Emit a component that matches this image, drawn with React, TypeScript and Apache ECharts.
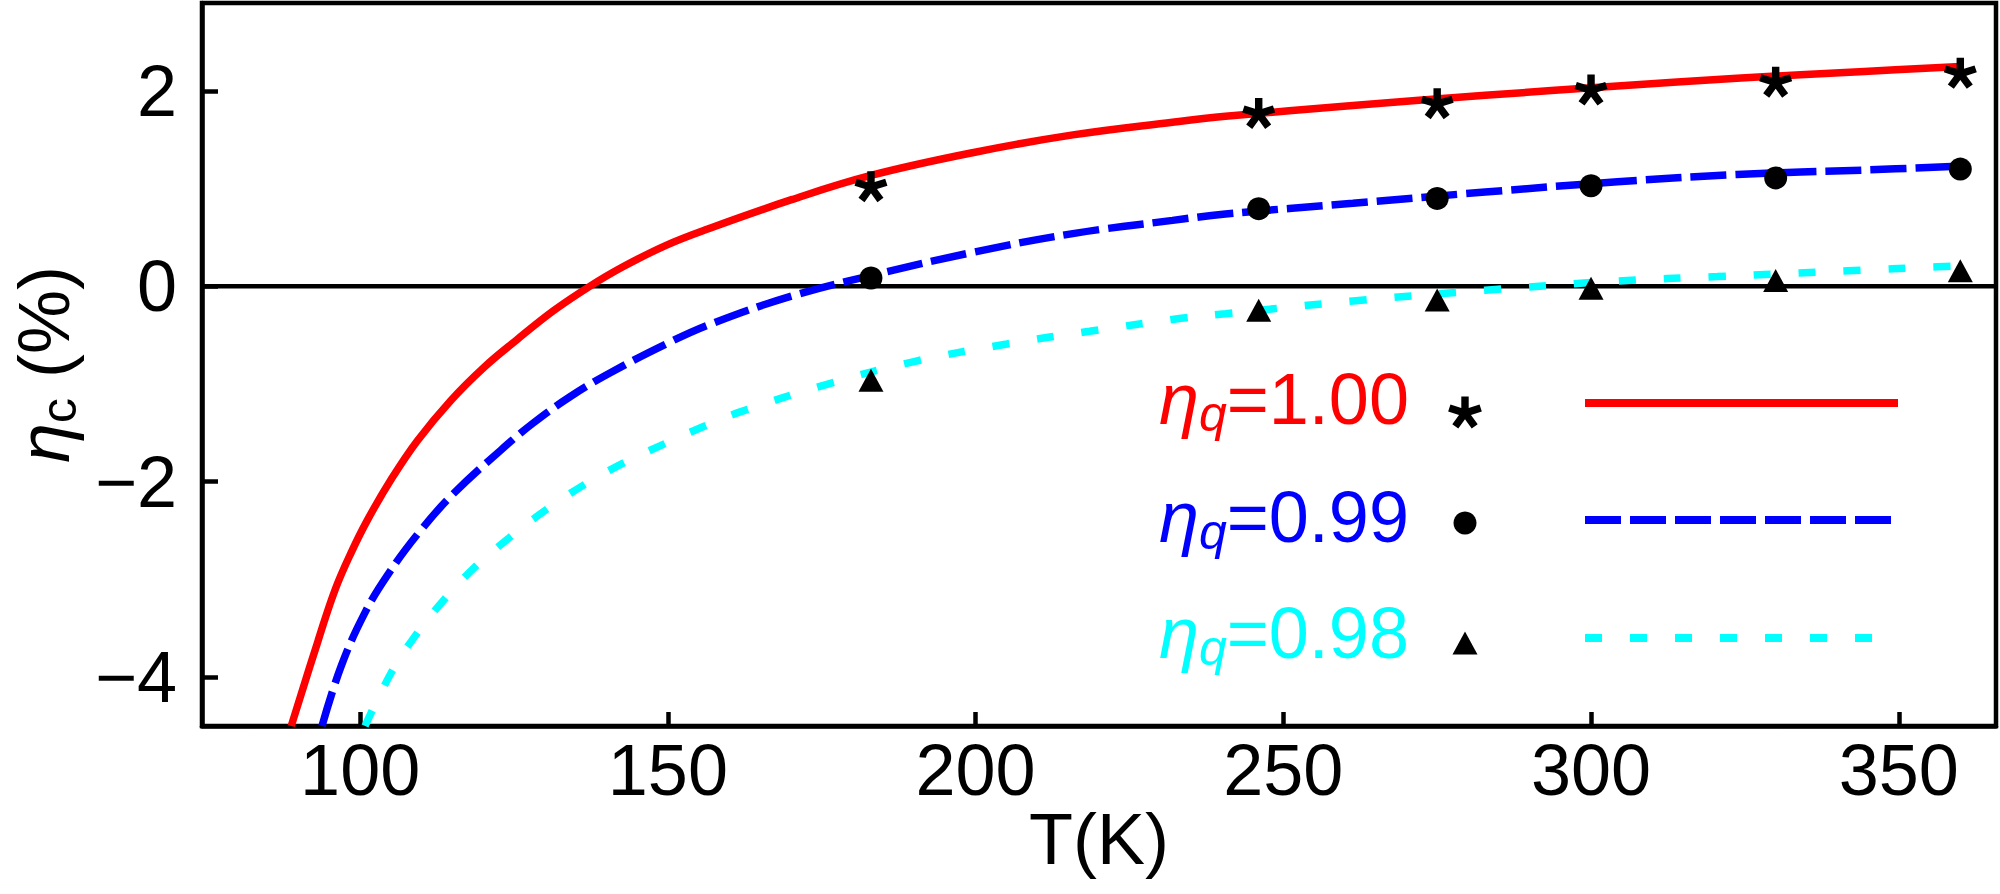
import React, { useEffect, useRef } from "react";
import * as echarts from "echarts";

// ---- data ----
const redT = [88.8, 93.2, 95.9, 98.5, 101.2, 105.0, 109.3, 114.7, 120.1, 125.4, 131.4, 137.3, 142.7, 149.7, 156.6, 170.1, 183.0, 199.7, 215.8, 232.0, 240.6, 261.3, 282.8, 304.3, 323.7, 344.4, 360];
const redV = [-4.5, -3.62, -3.11, -2.73, -2.39, -1.98, -1.58, -1.17, -0.83, -0.55, -0.25, 0, 0.2, 0.42, 0.59, 0.887, 1.135, 1.37, 1.55, 1.68, 1.74, 1.85, 1.955, 2.05, 2.13, 2.2, 2.25];

const blueT = [93.8, 96.9, 100.7, 104.5, 109.8, 115.2, 122.8, 128.1, 134.1, 140.5, 149.7, 157.2, 170.1, 183.0, 199.7, 215.8, 232.0, 240.6, 261.3, 282.8, 304.3, 323.7, 344.4, 360];
const blueV = [-4.5, -3.89, -3.35, -2.95, -2.5, -2.12, -1.68, -1.4, -1.13, -0.89, -0.59, -0.38, -0.1, 0.11, 0.35, 0.54, 0.675, 0.74, 0.85, 0.965, 1.07, 1.145, 1.19, 1.23];

const cyanT = [100.8, 105.0, 108.8, 113.6, 118.7, 124.1, 129.7, 135.9, 142.1, 148.8, 155.6, 162.0, 176.0, 190.0, 205.1, 218.5, 233.1, 240.6, 261.3, 282.8, 304.3, 320.5, 341.7, 356.2, 360];
const cyanV = [-4.5, -3.96, -3.59, -3.21, -2.87, -2.58, -2.31, -2.05, -1.83, -1.63, -1.44, -1.28, -1.0, -0.77, -0.59, -0.46, -0.33, -0.28, -0.15, -0.04, 0.055, 0.1, 0.16, 0.2, 0.21];

const markerT = [183, 246, 275, 300, 330, 360];
const starV = [1.02, 1.77, 1.87, 2.01, 2.09, 2.18];
const dotV = [0.085, 0.795, 0.9, 1.03, 1.11, 1.2];
const triV = [-0.96, -0.245, -0.14, -0.02, 0.06, 0.16];

const xTicks = [100, 150, 200, 250, 300, 350];
const yTicks = [-4, -2, 0, 2];

const legendLabels = ["=1.00", "=0.99", "=0.98"];

const FONT = "'Liberation Sans', Arial, Helvetica, sans-serif";
const RED = "#ff0000";
const BLUE = "#0000ff";
const CYAN = "#00ffff";

const X_MIN = 74.3;
const X_MAX = 365.8;
const Y_MIN = -4.5;
const Y_MAX = 2.9;

function asteriskPoints(cx: number, cy: number, L: number, w: number): number[][] {
  const pts: number[][] = [];
  const rin = w / Math.sin(Math.PI / 5);
  for (let k = 0; k < 5; k++) {
    const a = (k * 2 * Math.PI) / 5;
    const dx = Math.sin(a), dy = -Math.cos(a);
    const px = Math.cos(a), py = Math.sin(a);
    pts.push([cx + L * dx - w * px, cy + L * dy - w * py]);
    pts.push([cx + L * dx + w * px, cy + L * dy + w * py]);
    const b = a + Math.PI / 5;
    pts.push([cx + rin * Math.sin(b), cy - rin * Math.cos(b)]);
  }
  return pts;
}

const starPath =
  "path://M" +
  asteriskPoints(0, 0, 10, 2.3)
    .map((p) => p[0].toFixed(3) + " " + p[1].toFixed(3))
    .join(" L ") +
  " Z";

function pairs(t: number[], v: number[]) {
  return t.map((x, i) => [x, v[i]]);
}

function legendRich(color: string) {
  return {
    e: { fontSize: 72, fontStyle: "italic", lineHeight: 80, fontFamily: FONT, fill: color, color },
    q: { fontSize: 50, fontStyle: "italic", lineHeight: 36, verticalAlign: "bottom", fontFamily: FONT, fill: color, color },
    n: { fontSize: 72, lineHeight: 80, fontFamily: FONT, fill: color, color },
  };
}

export default function App() {
  const ref = useRef<HTMLDivElement>(null);

  useEffect(() => {
    if (!ref.current) return;
    const chart = echarts.init(ref.current, undefined, { renderer: "svg" });

    const legendColors = [RED, BLUE, CYAN];
    const legendTops = [359, 477, 593];
    const legendLineY = [403, 520, 638];
    const legendLineEnd = [1898, 1892, 1872];
    const legendDash: any[] = [null, [36, 9], [17, 28]];

    const graphic: any[] = [];
    legendLabels.forEach((lab, i) => {
      graphic.push({
        type: "text",
        x: 1159,
        y: legendTops[i],
        style: {
          text: "{e|η}{q|q}{n|" + lab + "}",
          rich: legendRich(legendColors[i]),
          fill: legendColors[i],
          align: "left",
          verticalAlign: "top",
          textAlign: "left",
          textVerticalAlign: "top",
        },
      });
      graphic.push({
        type: "line",
        shape: { x1: 1585, y1: legendLineY[i], x2: legendLineEnd[i], y2: legendLineY[i] },
        style: {
          stroke: legendColors[i],
          lineWidth: 8,
          lineDash: legendDash[i] || undefined,
          lineCap: "butt",
        },
      });
    });
    graphic.push({
      type: "polygon",
      shape: { points: asteriskPoints(1465, 413, 16.5, 3.7) },
      style: { fill: "#000" },
    });
    graphic.push({
      type: "circle",
      shape: { cx: 1465, cy: 523, r: 11.5 },
      style: { fill: "#000" },
    });
    graphic.push({
      type: "polygon",
      shape: { points: [[1465, 631.5], [1452.5, 654.5], [1477.5, 654.5]] },
      style: { fill: "#000" },
    });

    const blackLine = { color: "#000", width: 4.5 };

    const option: any = {
      animation: false,
      backgroundColor: "#ffffff",
      textStyle: { fontFamily: FONT },
      grid: {
        left: 190,
        right: 4,
        top: 3,
        bottom: 168,
        show: true,
        borderColor: "#000",
        borderWidth: 4.5,
        backgroundColor: "transparent",
      },
      xAxis: {
        type: "value",
        min: X_MIN,
        max: X_MAX,
        name: "T(K)",
        nameLocation: "middle",
        nameGap: 77,
        nameMoveOverlap: false,
        nameTextStyle: { fontSize: 72, color: "#000", fontFamily: FONT },
        axisLine: { show: true, onZero: false, lineStyle: blackLine },
        axisTick: {
          show: true,
          inside: true,
          length: 14,
          customValues: xTicks,
          lineStyle: blackLine,
        },
        axisLabel: {
          customValues: xTicks,
          fontSize: 72,
          color: "#000",
          margin: 8,
          fontFamily: FONT,
        },
        splitLine: { show: false },
      },
      yAxis: {
        type: "value",
        min: Y_MIN,
        max: Y_MAX,
        name: "{e|η}{c|c}{n| (%)}",
        nameLocation: "middle",
        nameRotate: 90,
        nameGap: 104,
        nameTextStyle: {
          color: "#000",
          fontFamily: FONT,
          rich: {
            e: { fontSize: 72, fontStyle: "italic", lineHeight: 80, fontFamily: FONT, color: "#000" },
            c: { fontSize: 50, lineHeight: 36, verticalAlign: "bottom", fontFamily: FONT, color: "#000" },
            n: { fontSize: 72, lineHeight: 80, fontFamily: FONT, color: "#000" },
          },
        },
        axisLine: { show: true, onZero: false, lineStyle: blackLine },
        axisTick: {
          show: true,
          inside: true,
          length: 16,
          customValues: yTicks,
          lineStyle: blackLine,
        },
        axisLabel: {
          customValues: yTicks,
          fontSize: 72,
          color: "#000",
          margin: 25,
          fontFamily: FONT,
          formatter: (v: number) => (v < 0 ? "\u2212" + Math.abs(v) : String(v)),
        },
        splitLine: { show: false },
      },
      series: [
        {
          // horizontal reference line at zero
          type: "line",
          name: "zero",
          data: [
            [X_MIN, 0],
            [X_MAX, 0],
          ],
          symbol: "none",
          showSymbol: false,
          silent: true,
          lineStyle: { color: "#000", width: 4.5 },
          z: 2,
        },
        {
          type: "line",
          name: "ηq=1.00",
          data: pairs(redT, redV),
          symbol: "none",
          showSymbol: false,
          smooth: 0.4,
          lineStyle: { color: RED, width: 7.5 },
          z: 3,
        },
        {
          type: "line",
          name: "ηq=0.99",
          data: pairs(blueT, blueV),
          symbol: "none",
          showSymbol: false,
          smooth: 0.4,
          lineStyle: { color: BLUE, width: 7.5, type: [36, 9], cap: "butt" },
          z: 3,
        },
        {
          type: "line",
          name: "ηq=0.98",
          data: pairs(cyanT, cyanV),
          symbol: "none",
          showSymbol: false,
          smooth: 0.4,
          lineStyle: { color: CYAN, width: 7.5, type: [17, 28], cap: "butt" },
          z: 3,
        },
        {
          type: "scatter",
          data: pairs(markerT, starV),
          symbol: starPath,
          symbolSize: [33, 31],
          itemStyle: { color: "#000", opacity: 1 },
          z: 5,
        },
        {
          type: "scatter",
          data: pairs(markerT, dotV),
          symbol: "circle",
          symbolSize: 23,
          itemStyle: { color: "#000", opacity: 1 },
          z: 5,
        },
        {
          type: "scatter",
          data: pairs(markerT, triV),
          symbol: "triangle",
          symbolSize: [25, 23],
          itemStyle: { color: "#000", opacity: 1 },
          z: 5,
        },
      ],
      graphic,
    };

    chart.setOption(option);
    return () => {
      chart.dispose();
    };
  }, []);

  return (
    <div
      ref={ref}
      style={{ position: "absolute", left: 0, top: 0, width: 2000, height: 894, background: "#fff" }}
    />
  );
}
